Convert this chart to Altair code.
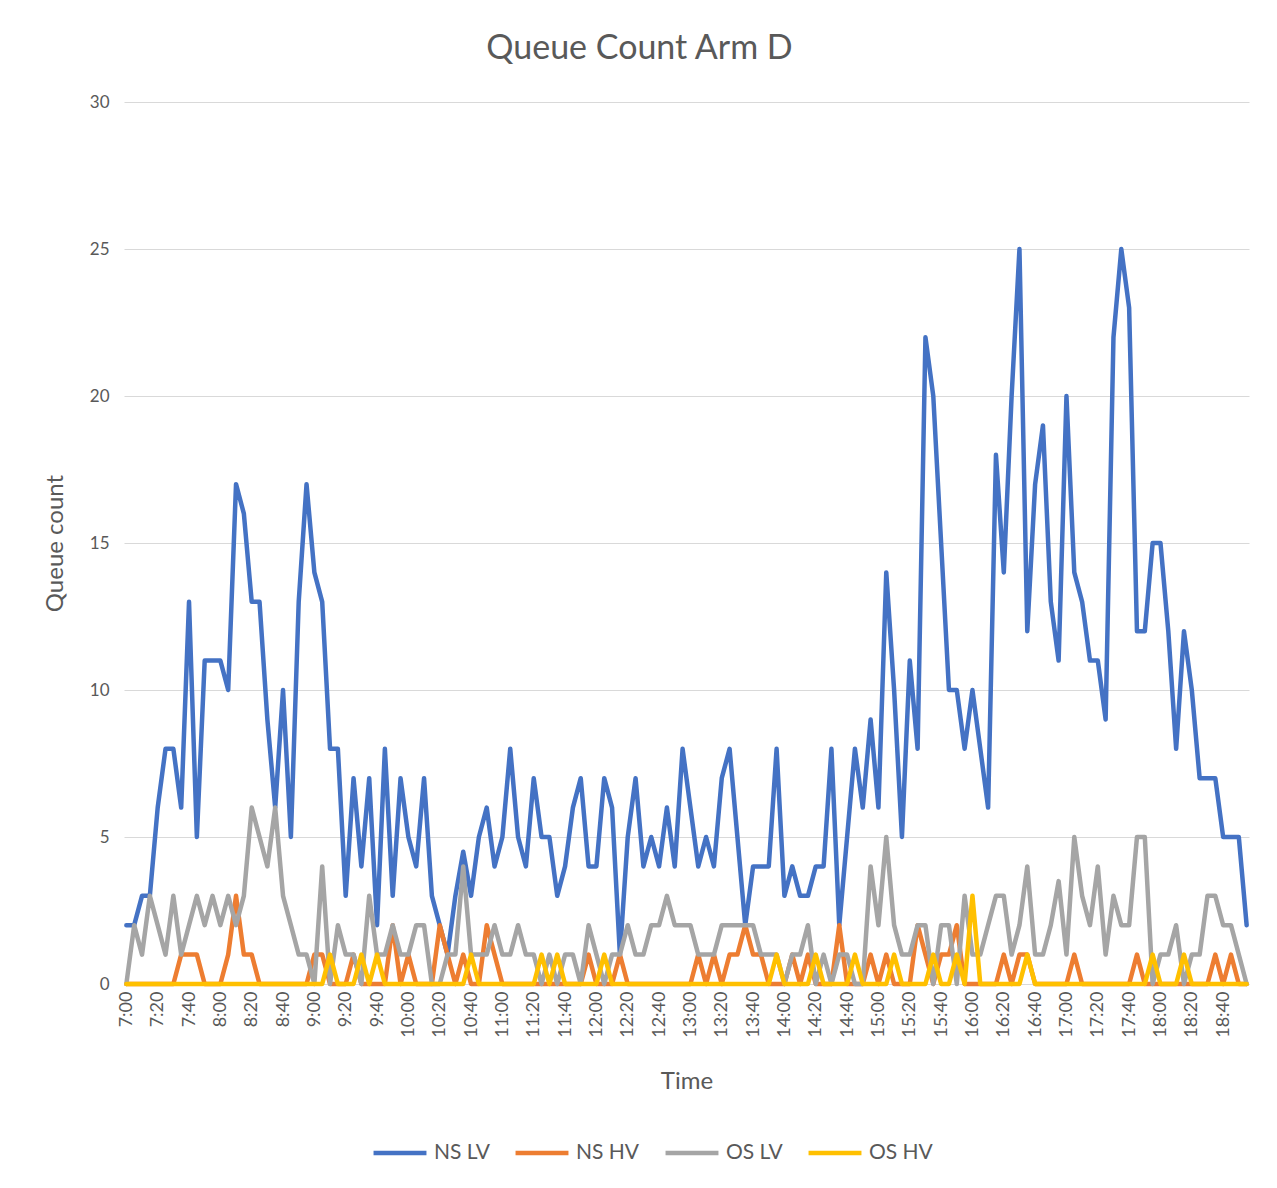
import altair as alt
import pandas as pd

# Queue counts every 5 minutes from 7:00 to 18:55
ns_lv = [2, 2, 3, 3, 6, 8, 8, 6, 13, 5,
         11, 11, 11, 10, 17, 16, 13, 13, 9, 6,
         10, 5, 13, 17, 14, 13, 8, 8, 3, 7,
         4, 7, 2, 8, 3, 7, 5, 4, 7, 3,
         2, 1, 3, 4.5, 3, 5, 6, 4, 5, 8,
         5, 4, 7, 5, 5, 3, 4, 6, 7, 4,
         4, 7, 6, 1, 5, 7, 4, 5, 4, 6,
         4, 8, 6, 4, 5, 4, 7, 8, 5, 2,
         4, 4, 4, 8, 3, 4, 3, 3, 4, 4,
         8, 2, 5, 8, 6, 9, 6, 14, 10, 5,
         11, 8, 22, 20, 15, 10, 10, 8, 10, 8,
         6, 18, 14, 20, 25, 12, 17, 19, 13, 11,
         20, 14, 13, 11, 11, 9, 22, 25, 23, 12,
         12, 15, 15, 12, 8, 12, 10, 7, 7, 7,
         5, 5, 5, 2]

ns_hv = [0, 0, 0, 0, 0, 0, 0, 1, 1, 1,
         0, 0, 0, 1, 3, 1, 1, 0, 0, 0,
         0, 0, 0, 0, 1, 1, 0, 0, 0, 1,
         0, 0, 0, 0, 2, 0, 1, 0, 0, 0,
         2, 1, 0, 1, 0, 0, 2, 1, 0, 0,
         0, 0, 0, 0, 0, 0, 0, 0, 0, 1,
         0, 0, 0, 1, 0, 0, 0, 0, 0, 0,
         0, 0, 0, 1, 0, 1, 0, 1, 1, 2,
         1, 1, 0, 0, 0, 1, 0, 1, 0, 0,
         0, 2, 0, 0, 0, 1, 0, 1, 0, 0,
         0, 2, 1, 0, 1, 1, 2, 0, 0, 0,
         0, 0, 1, 0, 1, 1, 0, 0, 0, 0,
         0, 1, 0, 0, 0, 0, 0, 0, 0, 1,
         0, 0, 0, 0, 0, 0, 0, 0, 0, 1,
         0, 1, 0, 0]

os_lv = [0, 2, 1, 3, 2, 1, 3, 1, 2, 3,
         2, 3, 2, 3, 2, 3, 6, 5, 4, 6,
         3, 2, 1, 1, 0, 4, 0, 2, 1, 1,
         0, 3, 1, 1, 2, 1, 1, 2, 2, 0,
         0, 1, 1, 4, 1, 1, 1, 2, 1, 1,
         2, 1, 1, 0, 1, 0, 1, 1, 0, 2,
         1, 0, 1, 1, 2, 1, 1, 2, 2, 3,
         2, 2, 2, 1, 1, 1, 2, 2, 2, 2,
         2, 1, 1, 1, 0, 1, 1, 2, 0, 1,
         0, 1, 1, 0, 0, 4, 2, 5, 2, 1,
         1, 2, 2, 0, 2, 2, 0, 3, 1, 1,
         2, 3, 3, 1, 2, 4, 1, 1, 2, 3.5,
         1, 5, 3, 2, 4, 1, 3, 2, 2, 5,
         5, 0, 1, 1, 2, 0, 1, 1, 3, 3,
         2, 2, 1, 0]

os_hv = [0, 0, 0, 0, 0, 0, 0, 0, 0, 0,
         0, 0, 0, 0, 0, 0, 0, 0, 0, 0,
         0, 0, 0, 0, 0, 0, 1, 0, 0, 0,
         1, 0, 1, 0, 0, 0, 0, 0, 0, 0,
         0, 0, 0, 0, 1, 0, 0, 0, 0, 0,
         0, 0, 0, 1, 0, 1, 0, 0, 0, 0,
         0, 1, 0, 0, 0, 0, 0, 0, 0, 0,
         0, 0, 0, 0, 0, 0, 0, 0, 0, 0,
         0, 0, 0, 1, 0, 0, 0, 0, 1, 0,
         0, 0, 0, 1, 0, 0, 0, 0, 1, 0,
         0, 0, 0, 1, 0, 0, 1, 0, 3, 0,
         0, 0, 0, 0, 0, 1, 0, 0, 0, 0,
         0, 0, 0, 0, 0, 0, 0, 0, 0, 0,
         0, 1, 0, 0, 0, 1, 0, 0, 0, 0,
         0, 0, 0, 0]

series_names = ["NS LV", "NS HV", "OS LV", "OS HV"]
series_values = [ns_lv, ns_hv, os_lv, os_hv]
series_colors = ["#4472C4", "#ED7D31", "#A5A5A5", "#FFC000"]

times = [f"{(420 + 5 * i) // 60}:{(420 + 5 * i) % 60:02d}" for i in range(len(ns_lv))]
tick_labels = times[::4]
y_ticks = [0, 5, 10, 15, 20, 25, 30]

rows = []
for name, vals in zip(series_names, series_values):
    for t, v in zip(times, vals):
        rows.append({"time": t, "series": name, "value": v})
df = pd.DataFrame(rows)

FONT = "Lato"
TXT = "#595959"

base = alt.Chart(df).encode(
    x=alt.X(
        "time:N",
        sort=times,
        scale=alt.Scale(type="point", padding=0.3),
        axis=alt.Axis(
            values=tick_labels, labelAngle=-90, title="Time",
            labelFontSize=18, titleFontSize=24, labelPadding=7, titlePadding=32,
            ticks=False, domainColor="#D9D9D9", grid=False,
            labelColor=TXT, titleColor=TXT, labelFont=FONT, titleFont=FONT,
            titleFontWeight="normal",
        ),
    ),
    y=alt.Y(
        "value:Q",
        scale=alt.Scale(domain=[0, 30]),
        axis=alt.Axis(
            values=y_ticks, title="Queue count", domain=False, ticks=False,
            labelFontSize=17, titleFontSize=24, labelPadding=15, titlePadding=22,
            gridColor="#D9D9D9", labelColor=TXT, titleColor=TXT,
            labelFont=FONT, titleFont=FONT, titleFontWeight="normal",
        ),
    ),
    color=alt.Color(
        "series:N",
        scale=alt.Scale(domain=series_names, range=series_colors),
        legend=alt.Legend(
            title=None, orient="none", direction="horizontal",
            legendX=247, legendY=1022,
            symbolType="stroke", symbolSize=2800, symbolStrokeWidth=4.5,
            labelFontSize=21, labelColor=TXT, labelFont=FONT,
            columnPadding=16, labelOffset=5,
        ),
    ),
)

layers = [
    base.transform_filter(alt.datum.series == s).mark_line(
        strokeWidth=4.5, strokeCap="round", strokeJoin="round"
    )
    for s in series_names
]

chart = alt.layer(*layers).properties(
    width=1125,
    height=882,
    title=alt.TitleParams(
        "Queue Count Arm D", fontSize=34, font=FONT, color=TXT,
        fontWeight="normal", offset=27, dx=-47,
    ),
    padding={"left": 35, "top": 24, "right": 10, "bottom": 10},
).configure_view(stroke=None)

chart.save("out.html", embed_options={"renderer": "svg", "actions": False})
